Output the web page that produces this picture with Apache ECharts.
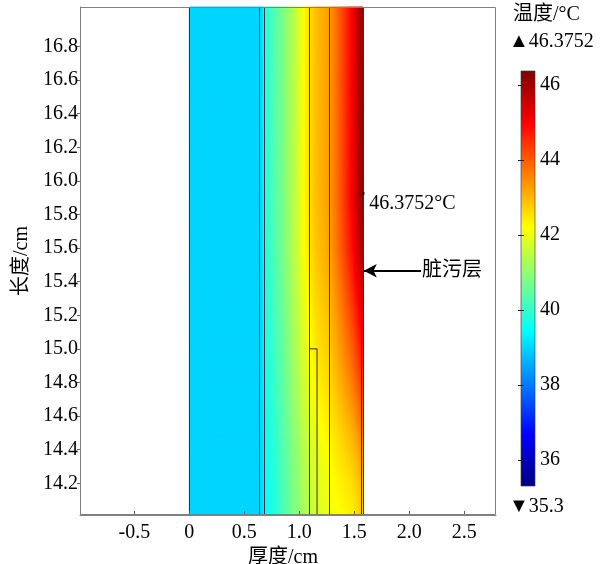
<!DOCTYPE html>
<html>
<head>
<meta charset="utf-8">
<script src="https://cdn.jsdelivr.net/npm/echarts@6/dist/echarts.min.js"></script>
<style>
  html, body { margin: 0; padding: 0; background: #fff; }
  #chart { width: 606px; height: 564px; }
</style>
</head>
<body>
<div id="chart"></div>
<script>
// Wall thickness positions (cm) at which the temperature field is sampled
const xSamples = [0, 0.66, 0.69, 0.78, 0.87, 0.96, 1.03, 1.09, 1.16, 1.27, 1.35, 1.42, 1.48, 1.53, 1.58];
// Heights (cm) of the sampled rows, top to bottom
const ySamples = [17.035, 16.6, 16.2, 15.9, 15.6, 15.45, 15.3, 15.15, 15.0, 14.9, 14.8, 14.7, 14.6, 14.5, 14.4, 14.3, 14.2, 14.1, 14.011];
// Temperature (°C) in each row, one value per thickness position
const tY1703 = [39.0, 39.0, 39.85, 40.35, 40.9, 41.55, 42.15, 42.6, 42.95, 43.3, 43.9, 44.5, 45.05, 45.65, 46.25];
const tY1660 = [39.0, 39.0, 39.85, 40.35, 40.9, 41.55, 42.15, 42.6, 42.95, 43.3, 43.9, 44.5, 45.05, 45.67, 46.32];
const tY1620 = [39.0, 39.0, 39.85, 40.35, 40.9, 41.55, 42.15, 42.6, 42.95, 43.3, 43.9, 44.5, 45.07, 45.7, 46.35];
const tY1590 = [39.0, 39.0, 39.85, 40.35, 40.9, 41.55, 42.15, 42.6, 42.95, 43.3, 43.9, 44.5, 45.07, 45.7, 46.37];
const tY1560 = [39.0, 39.0, 39.83, 40.32, 40.87, 41.51, 42.09, 42.53, 42.88, 43.22, 43.8, 44.37, 44.89, 45.47, 46.1];
const tY1545 = [39.0, 39.0, 39.8, 40.28, 40.83, 41.46, 42.03, 42.46, 42.8, 43.14, 43.68, 44.21, 44.71, 45.25, 45.86];
const tY1530 = [39.0, 39.0, 39.77, 40.24, 40.78, 41.4, 41.94, 42.36, 42.7, 43.02, 43.53, 44.02, 44.47, 44.98, 45.56];
const tY1515 = [39.0, 39.0, 39.74, 40.19, 40.73, 41.33, 41.86, 42.26, 42.59, 42.91, 43.37, 43.82, 44.23, 44.7, 45.26];
const tY1500 = [39.0, 39.0, 39.71, 40.15, 40.68, 41.27, 41.77, 42.16, 42.49, 42.8, 43.22, 43.62, 43.99, 44.43, 44.96];
const tY1490 = [39.0, 39.0, 39.69, 40.12, 40.65, 41.23, 41.71, 42.09, 42.42, 42.72, 43.12, 43.49, 43.83, 44.25, 44.76];
const tY1480 = [39.0, 39.0, 39.66, 40.08, 40.61, 41.18, 41.65, 42.02, 42.34, 42.64, 43.0, 43.33, 43.65, 44.03, 44.52];
const tY1470 = [39.0, 39.0, 39.64, 40.05, 40.57, 41.13, 41.58, 41.94, 42.26, 42.55, 42.88, 43.18, 43.46, 43.82, 44.29];
const tY1460 = [39.0, 39.0, 39.62, 40.01, 40.53, 41.08, 41.51, 41.86, 42.18, 42.46, 42.76, 43.03, 43.27, 43.61, 44.06];
const tY1450 = [39.0, 39.0, 39.59, 39.97, 40.49, 41.02, 41.44, 41.77, 42.09, 42.36, 42.62, 42.85, 43.06, 43.36, 43.79];
const tY1440 = [39.0, 39.0, 39.57, 39.94, 40.45, 40.98, 41.38, 41.71, 42.02, 42.29, 42.52, 42.72, 42.9, 43.18, 43.59];
const tY1430 = [39.0, 39.0, 39.55, 39.91, 40.42, 40.94, 41.32, 41.64, 41.95, 42.21, 42.42, 42.59, 42.74, 43.0, 43.39];
const tY1420 = [39.0, 39.0, 39.52, 39.88, 40.39, 40.9, 41.27, 41.58, 41.88, 42.14, 42.32, 42.45, 42.59, 42.81, 43.18];
const tY1410 = [39.0, 39.0, 39.51, 39.86, 40.37, 40.87, 41.23, 41.53, 41.83, 42.09, 42.25, 42.37, 42.48, 42.69, 43.05];
const tY1401 = [39.0, 39.0, 39.5, 39.85, 40.35, 40.85, 41.2, 41.5, 41.8, 42.05, 42.2, 42.3, 42.4, 42.6, 42.95];
const tempRows = [tY1703, tY1660, tY1620, tY1590, tY1560, tY1545, tY1530, tY1515, tY1500, tY1490,
                  tY1480, tY1470, tY1460, tY1450, tY1440, tY1430, tY1420, tY1410, tY1401];

// Material layer boundaries (cm) and the small inset block
const layerBounds = [0, 0.636, 0.682, 1.09, 1.267, 1.562, 1.58];
const insetOutline = [[1.09, 15.0], [1.161, 15.0], [1.161, 14.011]];

// Hottest point and the fouling-layer pointer
const maxPoint = [1.582, 15.925, 46.3752];
const foulingArrow = [[1.586, 15.465], [2.106, 15.465]];
const foulingLabel = '脏污层';

// Axis ranges and tick values
const xRange = [-0.994, 2.788];
const yRange = [14.011, 17.035];
const xTicks = [-0.5, 0, 0.5, 1.0, 1.5, 2.0, 2.5];
const yTicks = [14.2, 14.4, 14.6, 14.8, 15.0, 15.2, 15.4, 15.6, 15.8, 16.0, 16.2, 16.4, 16.6, 16.8];

// Colour scale
const cbMin = 35.3;
const cbMax = 46.3752;
const cbTicks = [36, 38, 40, 42, 44, 46];
const jetColors = ['#000080', '#0000ff', '#0080ff', '#00ffff', '#80ff80', '#ffff00', '#ff8000', '#ff0000', '#800000'];

const FONT = '"Liberation Serif", "Noto Sans CJK SC", serif';

function hexToRgb(h) {
  return [parseInt(h.slice(1, 3), 16), parseInt(h.slice(3, 5), 16), parseInt(h.slice(5, 7), 16)];
}
const jetRgb = jetColors.map(hexToRgb);
const jetSteps = jetColors.map((c, k) => cbMin + (cbMax - cbMin) * k / (jetColors.length - 1));

// Map a temperature onto the colour scale
function tempColor(t) {
  let u = (t - cbMin) / (cbMax - cbMin);
  u = Math.max(0, Math.min(1, u));
  const p = u * (jetRgb.length - 1);
  const i = Math.min(Math.floor(p), jetRgb.length - 2);
  const f = p - i;
  const a = jetRgb[i], b = jetRgb[i + 1];
  const c = a.map((v, k) => Math.round(v + (b[k] - v) * f));
  return 'rgb(' + c.join(',') + ')';
}

// Fill one triangle of the mesh with a gradient running along its temperature slope
function shadedTriangle(tri) {
  const pts = tri.map(v => v.p);
  const ts = tri.map(v => v.t);
  const [x1, y1] = pts[0], [x2, y2] = pts[1], [x3, y3] = pts[2];
  const det = (x2 - x1) * (y3 - y1) - (x3 - x1) * (y2 - y1);
  const d2 = ts[1] - ts[0], d3 = ts[2] - ts[0];
  const tMin = Math.min(...ts), tMax = Math.max(...ts);
  let fill;
  if (Math.abs(det) < 1e-9 || tMax - tMin < 1e-6) {
    fill = tempColor((tMin + tMax) / 2);
  } else {
    const ga = (d2 * (y3 - y1) - d3 * (y2 - y1)) / det;
    const gb = ((x2 - x1) * d3 - (x3 - x1) * d2) / det;
    const g2 = ga * ga + gb * gb;
    const s = pts[ts.indexOf(tMin)];
    const k = (tMax - tMin) / g2;
    const e = [s[0] + ga * k, s[1] + gb * k];
    const stops = [{ offset: 0, color: tempColor(tMin) }];
    jetSteps.forEach(tb => {
      if (tb > tMin && tb < tMax) stops.push({ offset: (tb - tMin) / (tMax - tMin), color: tempColor(tb) });
    });
    stops.push({ offset: 1, color: tempColor(tMax) });
    fill = new echarts.graphic.LinearGradient(s[0], s[1], e[0], e[1], stops, true);
  }
  return {
    type: 'polygon',
    shape: { points: pts },
    style: { fill: fill, stroke: fill, lineWidth: 1, lineJoin: 'round' }
  };
}

function renderCell(params, api) {
  const j = api.value(2), i = api.value(3);
  const corner = (c, r) => ({ p: api.coord([xSamples[c], ySamples[r]]), t: tempRows[r][c] });
  const a = corner(j, i), b = corner(j + 1, i), c = corner(j + 1, i + 1), d = corner(j, i + 1);
  return {
    type: 'group',
    children: [shadedTriangle([a, b, c]), shadedTriangle([a, c, d])]
  };
}

function renderBound(params, api) {
  const x = api.value(0);
  const a = api.coord([x, yRange[0]]);
  const b = api.coord([x, yRange[1]]);
  const px = Math.round(a[0]) + 0.5;
  return {
    type: 'line',
    shape: { x1: px, y1: a[1], x2: px, y2: b[1] },
    style: { stroke: '#333', lineWidth: 1 }
  };
}

function renderColorBar(params, api) {
  const a = api.coord([0, cbMax]);
  const b = api.coord([1, cbMin]);
  const stops = jetColors.map((c, k) => ({ offset: k / (jetColors.length - 1), color: c }));
  return {
    type: 'rect',
    shape: { x: a[0], y: a[1], width: b[0] - a[0], height: b[1] - a[1] },
    style: { fill: new echarts.graphic.LinearGradient(0, 1, 0, 0, stops), stroke: 'rgba(60,60,60,0.8)', lineWidth: 0.8 }
  };
}

// Mesh cells: [x, y, column index, row index]
const fieldCells = [];
for (let i = 0; i < ySamples.length - 1; i++) {
  for (let j = 0; j < xSamples.length - 1; j++) {
    fieldCells.push([xSamples[j], ySamples[i], j, i]);
  }
}

const chart = echarts.init(document.getElementById('chart'), null, { renderer: 'canvas' });

const option = {
  animation: false,
  backgroundColor: '#fff',
  textStyle: { fontFamily: FONT },
  grid: [
    { left: 80, top: 7, width: 416, height: 508, containLabel: false, outerBoundsMode: 'none' },
    { left: 521, top: 71, width: 14, height: 415, containLabel: false, outerBoundsMode: 'none' }
  ],
  xAxis: [
    {
      gridIndex: 0, type: 'value', min: xRange[0], max: xRange[1], z: 10,
      name: '厚度/cm', nameLocation: 'middle', nameGap: 26,
      nameTextStyle: { fontSize: 20, color: '#000', fontFamily: FONT, padding: [0, 10, 0, 0] },
      axisLine: { show: true, onZero: false, lineStyle: { color: '#808080', width: 1 } },
      axisTick: { show: true, inside: true, length: 4, customValues: xTicks, lineStyle: { color: '#606060' } },
      axisLabel: {
        customValues: xTicks, fontSize: 20, color: '#000', margin: 8, fontFamily: FONT,
        formatter: v => (v === 0 ? '0' : Number(v).toFixed(1))
      },
      splitLine: { show: false }
    },
    { gridIndex: 1, type: 'value', min: 0, max: 1, show: false }
  ],
  yAxis: [
    {
      gridIndex: 0, type: 'value', min: yRange[0], max: yRange[1], z: 10,
      name: '长度/cm', nameLocation: 'middle', nameGap: 48,
      nameTextStyle: { fontSize: 20, color: '#000', fontFamily: FONT },
      axisLine: { show: true, onZero: false, lineStyle: { color: '#808080', width: 1 } },
      axisTick: { show: true, inside: false, length: 3, customValues: yTicks, lineStyle: { color: '#606060' } },
      axisLabel: {
        customValues: yTicks, fontSize: 20, color: '#000', margin: 2, fontFamily: FONT,
        formatter: v => Number(v).toFixed(1)
      },
      splitLine: { show: false }
    },
    {
      gridIndex: 1, type: 'value', min: cbMin, max: cbMax, position: 'right', z: 10,
      axisLine: { show: false },
      axisTick: { show: true, inside: true, length: 3, customValues: cbTicks, lineStyle: { color: '#222' } },
      axisLabel: { customValues: cbTicks, fontSize: 20, color: '#000', margin: 5, fontFamily: FONT },
      splitLine: { show: false }
    },
    {
      gridIndex: 1, type: 'value', min: cbMin, max: cbMax, position: 'left', z: 10,
      axisLine: { show: false },
      axisTick: { show: true, inside: true, length: 3, customValues: cbTicks, lineStyle: { color: '#222' } },
      axisLabel: { show: false },
      splitLine: { show: false }
    }
  ],
  series: [
    {
      // temperature field
      type: 'custom', xAxisIndex: 0, yAxisIndex: 0, z: 2,
      renderItem: renderCell,
      encode: { x: 0, y: 1 },
      data: fieldCells,
      silent: true
    },
    {
      // layer boundaries
      type: 'custom', xAxisIndex: 0, yAxisIndex: 0, z: 3,
      renderItem: renderBound,
      data: layerBounds.map(x => [x]),
      silent: true
    },
    {
      type: 'line', xAxisIndex: 0, yAxisIndex: 0, z: 3,
      data: insetOutline, symbol: 'none',
      lineStyle: { color: '#333', width: 1 },
      silent: true
    },
    {
      // maximum temperature point
      type: 'scatter', xAxisIndex: 0, yAxisIndex: 0, z: 5,
      data: [maxPoint], symbol: 'rect', symbolSize: [2, 3],
      itemStyle: { color: '#000', opacity: 1 },
      label: {
        show: true, position: [7, 2], align: 'left', verticalAlign: 'top', opacity: 1,
        formatter: p => p.value[2] + '°C', fontSize: 20, color: '#000', fontFamily: FONT
      },
      silent: true
    },
    {
      // fouling layer pointer
      type: 'line', xAxisIndex: 0, yAxisIndex: 0, z: 5, data: [], silent: true,
      markLine: {
        silent: true, animation: false,
        symbol: ['arrow', 'none'], symbolSize: [10, 13],
        lineStyle: { color: '#000', width: 2, type: 'solid' },
        label: { show: true, position: 'end', distance: 1, formatter: foulingLabel, fontSize: 20, color: '#000', fontFamily: FONT },
        emphasis: { disabled: true },
        data: [[{ coord: foulingArrow[0] }, { coord: foulingArrow[1] }]]
      }
    },
    {
      // colour bar
      type: 'custom', xAxisIndex: 1, yAxisIndex: 1, z: 2,
      renderItem: renderColorBar,
      data: [[0, cbMin]],
      silent: true
    }
  ],
  graphic: [
    {
      type: 'rect', z: 100, silent: true,
      shape: { x: 80.5, y: 7.5, width: 415, height: 507 },
      style: { fill: 'none', stroke: '#808080', lineWidth: 1 }
    },
    {
      type: 'text', left: 513, top: 5, z: 100,
      style: { text: '温度/°C', font: '20px ' + FONT, fill: '#000' }
    },
    {
      type: 'text', left: 509, top: 32, z: 100,
      style: { text: '▲' + cbMax, font: '20px ' + FONT, fill: '#000' }
    },
    {
      type: 'text', left: 509, top: 497, z: 100,
      style: { text: '▼' + cbMin, font: '20px ' + FONT, fill: '#000' }
    }
  ]
};

chart.setOption(option);
</script>
</body>
</html>
